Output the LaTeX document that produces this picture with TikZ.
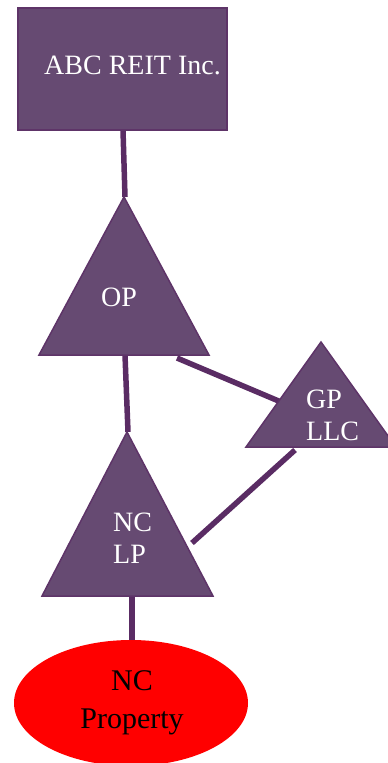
\documentclass[tikz,border=0pt]{standalone}
\usepackage{fontspec}
\setmainfont{Liberation Serif}
\usepackage{xcolor}
\usetikzlibrary{positioning}

\definecolor{reitfill}{HTML}{664A72}
\definecolor{reitedge}{HTML}{5E3468}
\definecolor{reitlink}{HTML}{5A2C64}

\begin{document}
\begin{tikzpicture}[x=1pt,y=-1pt,
    entity/.style={fill=reitfill,draw=reitedge,line width=1.5pt,line join=miter},
    label/.style={text=white,inner sep=0pt,font=\fontsize{28}{32}\selectfont},
    link/.style={draw=reitlink,line width=5.5pt}]
    \useasboundingbox (0,0) rectangle (388,763);

    % connector end points
    \coordinate (reit-s) at (123,130);
    \coordinate (op-n) at (125,197);
    \coordinate (op-s) at (125,355);
    \coordinate (op-e) at (177,358);
    \coordinate (gp-w) at (281,402);
    \coordinate (gp-s) at (295,450);
    \coordinate (nclp-n) at (128,432);
    \coordinate (nclp-e) at (192,543);
    \coordinate (nclp-s) at (132,596);
    \coordinate (prop-n) at (132,641);

    % links (behind the shapes)
    \draw[link] (reit-s) -- (op-n);
    \draw[link] (op-s) -- (nclp-n);
    \draw[link] (op-e) -- (gp-w);
    \draw[link] (gp-s) -- (nclp-e);
    \draw[link] (nclp-s) -- (prop-n);

    % REIT box
    \draw[entity] (18,8) rectangle (227,130);
    \node[label] (reit) at (132.5,65) {ABC REIT Inc.};

    % OP triangle
    \draw[entity] (124,197) -- (39,355) -- (209,355) -- cycle;
    \node[label] (op) at (119,297) {OP};

    % GP LLC triangle
    \draw[entity] (321,342) -- (246,447) -- (396,447) -- cycle;
    \node[label,anchor=west,align=left] (gp) at (306,415) {GP\\LLC};

    % NC LP triangle
    \draw[entity] (127,432) -- (42,596) -- (213,596) -- cycle;
    \node[label,anchor=west,align=left] (nclp) at (113,538.5) {NC\\LP};

    % property
    \fill[red] (131,703) ellipse (117 and 63);
    \node[label,text=black,align=center,font=\fontsize{30}{38}\selectfont] (prop) at (132,703) {NC\\Property};
\end{tikzpicture}
\end{document}
